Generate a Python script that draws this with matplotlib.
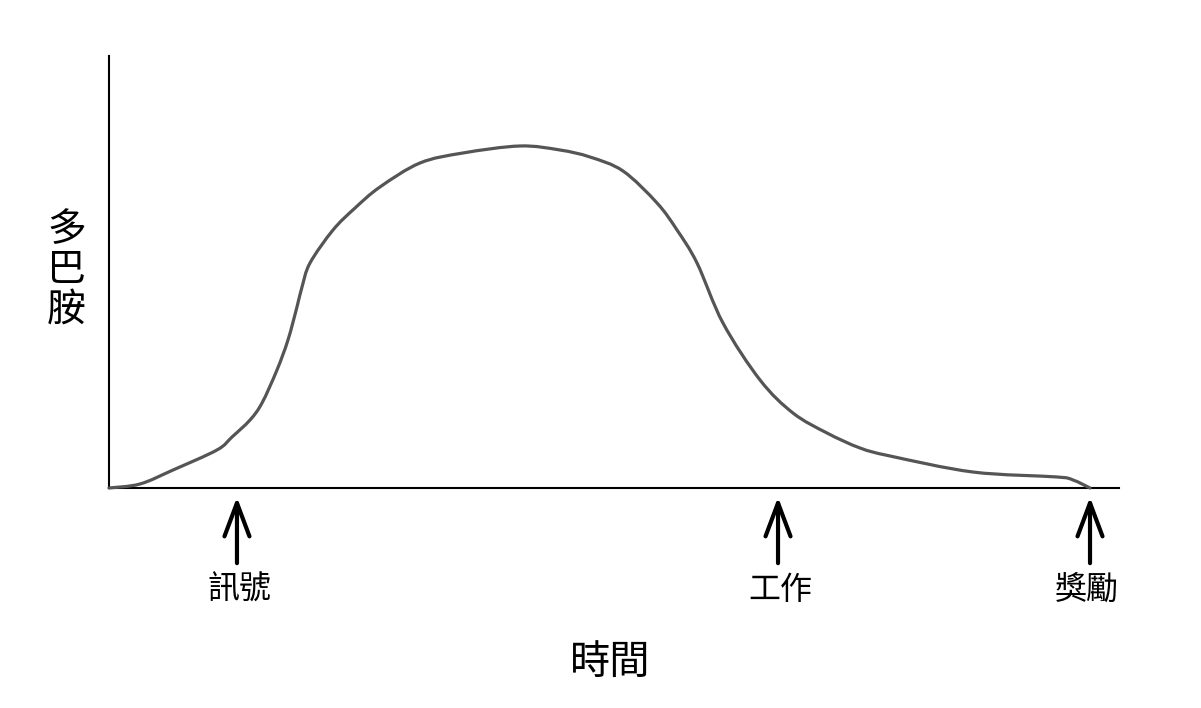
import matplotlib
matplotlib.use("Agg")
import matplotlib.pyplot as plt
from matplotlib.path import Path
from matplotlib.patches import PathPatch

plt.rcParams['font.family'] = ['Noto Sans CJK TC', 'DejaVu Sans']

# dopamine curve (time 0-100, level 0-100)
time = [0, 3.07, 6.34, 10.69, 12.18, 13.96, 15.15, 16.63, 17.72,
        18.61, 19.11, 19.90, 22.18, 24.36, 26.83, 30.79, 35.05, 40.69, 44.65,
        47.62, 50.89, 54.26, 56.24, 58.22, 60.79, 64.46, 67.72, 71.09, 74.36,
        77.33, 85.54, 93.86, 95.45, 97.13]
dopamine = [0, 0.93, 4.17, 8.80, 11.81, 15.74, 19.68, 27.31, 34.26,
            41.90, 46.53, 52.08, 59.72, 64.81, 69.68, 75.23, 77.55, 79.17, 78.24,
            76.62, 73.38, 65.97, 59.72, 52.08, 38.19, 25.00, 17.36, 12.73, 9.26,
            7.41, 3.70, 2.55, 1.85, 0]

events = ['訊號', '工作', '獎勵']
event_times = [12.67, 66.24, 97.13]
label_x = [12.97, 66.44, 96.83]

fig = plt.figure(figsize=(12.01, 7.08), dpi=100)
ax = fig.add_axes([109 / 1201, (708 - 488) / 708, 1010 / 1201, 432 / 708])
ax.set_xlim(0, 100)
ax.set_ylim(0, 100)

# smooth curve through the read points (Catmull-Rom as cubic Bezier)
pts = list(zip(time, dopamine))
verts = [pts[0]]
codes = [Path.MOVETO]
for i in range(len(pts) - 1):
    p0 = pts[max(i - 1, 0)]
    p1 = pts[i]
    p2 = pts[i + 1]
    p3 = pts[min(i + 2, len(pts) - 1)]
    c1 = (p1[0] + (p2[0] - p0[0]) / 6, p1[1] + (p2[1] - p0[1]) / 6)
    c2 = (p2[0] - (p3[0] - p1[0]) / 6, p2[1] - (p3[1] - p1[1]) / 6)
    verts += [c1, c2, p2]
    codes += [Path.CURVE4] * 3
ax.add_patch(PathPatch(Path(verts, codes), facecolor='none',
                       edgecolor='#555555', lw=2.3, capstyle='round',
                       clip_on=False, zorder=3))

for s in ['top', 'right']:
    ax.spines[s].set_visible(False)
for s in ['left', 'bottom']:
    ax.spines[s].set_linewidth(1.5)
    ax.spines[s].set_color('black')
ax.set_xticks([])
ax.set_yticks([])

for name, t, lx in zip(events, event_times, label_x):
    ax.annotate('', xy=(t, -2.1), xytext=(t, -17.4), annotation_clip=False,
                arrowprops=dict(arrowstyle='->,head_length=1.2,head_width=0.45',
                                color='black', lw=3.0, mutation_scale=20,
                                shrinkA=0, shrinkB=0))
    ax.text(lx, -23.6, name, ha='center', va='center', fontsize=23,
            clip_on=False)

ax.text(49.6, -40.3, '時間', ha='center', va='center', fontsize=29,
        clip_on=False)
ax.text(-4.2, 50.5, '多\n巴\n胺', ha='center', va='center', fontsize=28,
        linespacing=1.0, clip_on=False)

fig.savefig('out.png', dpi=100, facecolor='white')
